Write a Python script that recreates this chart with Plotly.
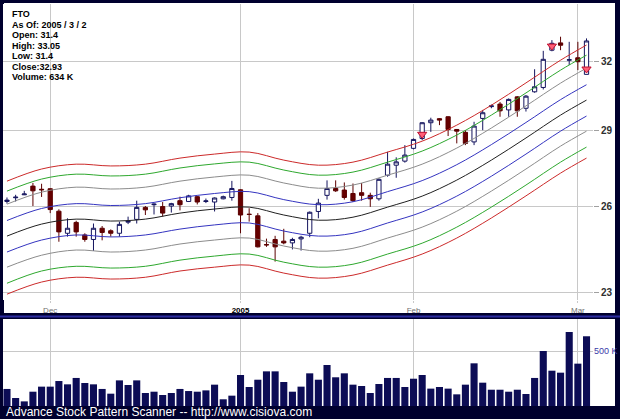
import math
import plotly.graph_objects as go

# ---------------- data ----------------
dates = [
    "2004-11-23", "2004-11-24", "2004-11-26", "2004-11-29", "2004-11-30",
    "2004-12-01", "2004-12-02", "2004-12-03", "2004-12-06", "2004-12-07", "2004-12-08", "2004-12-09",
    "2004-12-10", "2004-12-13", "2004-12-14", "2004-12-15", "2004-12-16", "2004-12-17", "2004-12-20",
    "2004-12-21", "2004-12-22", "2004-12-23", "2004-12-27", "2004-12-28", "2004-12-29", "2004-12-30",
    "2004-12-31",
    "2005-01-03", "2005-01-04", "2005-01-05", "2005-01-06", "2005-01-07", "2005-01-10", "2005-01-11",
    "2005-01-12", "2005-01-13", "2005-01-14", "2005-01-18", "2005-01-19", "2005-01-20", "2005-01-21",
    "2005-01-24", "2005-01-25", "2005-01-26", "2005-01-27", "2005-01-28", "2005-01-31",
    "2005-02-01", "2005-02-02", "2005-02-03", "2005-02-04", "2005-02-07", "2005-02-08", "2005-02-09",
    "2005-02-10", "2005-02-11", "2005-02-14", "2005-02-15", "2005-02-16", "2005-02-17", "2005-02-18",
    "2005-02-22", "2005-02-23", "2005-02-24", "2005-02-25", "2005-02-28",
    "2005-03-01", "2005-03-02",
]

opens = [26.20, 26.34, 26.45, 26.78, 26.66, 26.68, 25.84, 25.04, 25.43, 24.98,
         24.82, 25.22, 25.13, 25.04, 25.44, 25.54, 25.98, 26.08, 26.01, 26.03,
         26.23, 26.20, 26.38, 26.20, 26.18, 26.30, 26.35, 26.64, 25.73, 25.67,
         24.64, 24.82, 24.76, 24.70, 24.84, 25.04, 25.83, 26.43, 26.69, 26.63,
         26.50, 26.53, 26.43, 26.30, 27.20, 27.59, 27.75, 28.26, 28.66, 29.31,
         29.48, 29.56, 29.03, 28.91, 28.52, 29.49, 29.99, 30.10, 29.85, 30.41,
         29.92, 30.63, 30.82, 32.50, 32.84, 32.04, 32.15, 31.40]
highs = [26.35, 26.45, 26.60, 26.90, 26.87, 26.70, 25.91, 25.58, 25.49, 25.04,
         25.39, 25.30, 25.18, 25.46, 25.64, 26.23, 26.03, 26.13, 26.18, 26.15,
         26.38, 26.45, 26.41, 26.31, 26.35, 26.42, 26.98, 26.66, 25.95, 25.77,
         24.85, 24.95, 25.20, 24.88, 24.95, 25.83, 26.30, 27.00, 27.00, 26.92,
         26.88, 26.90, 26.53, 27.08, 28.12, 27.90, 28.39, 28.66, 29.33, 29.52,
         29.50, 29.58, 29.05, 29.00, 29.35, 29.85, 30.08, 30.19, 30.34, 30.44,
         30.49, 31.63, 32.47, 32.97, 33.13, 32.89, 32.89, 33.05]
lows = [26.12, 26.20, 26.44, 26.03, 26.37, 25.77, 24.74, 24.92, 24.92, 24.74,
        24.42, 24.79, 24.92, 24.92, 25.37, 25.39, 25.70, 25.72, 25.64, 25.79,
        25.87, 26.18, 26.09, 26.14, 25.83, 26.28, 26.23, 25.04, 25.46, 24.54,
        24.56, 24.05, 24.65, 24.47, 24.43, 24.90, 25.58, 26.27, 26.56, 26.27,
        26.18, 26.23, 26.00, 26.23, 27.14, 27.10, 27.69, 28.22, 28.59, 28.93,
        29.21, 28.76, 28.46, 28.39, 28.39, 29.00, 29.92, 29.56, 29.56, 29.56,
        29.78, 30.59, 30.73, 32.45, 32.50, 31.82, 31.59, 31.40]
closes = [26.25, 26.36, 26.48, 26.60, 26.64, 25.90, 25.09, 25.22, 25.09, 24.82,
          25.22, 25.07, 25.04, 25.36, 25.47, 25.98, 25.89, 26.10, 25.77, 26.12,
          26.08, 26.41, 26.18, 26.22, 26.33, 26.38, 26.69, 25.70, 25.72, 24.56,
          24.63, 24.56, 24.70, 24.82, 24.90, 25.80, 26.14, 26.69, 26.60, 26.35,
          26.23, 26.43, 26.30, 27.04, 27.63, 27.72, 27.99, 28.62, 29.31, 29.42,
          29.42, 29.03, 28.96, 28.46, 29.17, 29.73, 30.02, 29.81, 30.30, 29.81,
          30.44, 30.85, 32.08, 32.82, 32.73, 32.06, 31.97, 32.93]
volumes_k = [155, 73, 42, 130, 176, 176, 227, 197, 255, 209,
             197, 155, 112, 233, 191, 233, 118, 130, 100, 118,
             155, 136, 130, 142, 194, 61, 94, 282, 173, 239,
             315, 315, 218, 130, 176, 297, 239, 373, 261, 297,
             194, 182, 118, 200, 255, 255, 173, 248, 282, 158,
             173, 158, 106, 194, 388, 212, 148, 148, 130, 148,
             109, 255, 500, 321, 303, 673, 385, 634]

# envelope band lines, read at every 4th trading day (plus the last one)
band_days = [0, 4, 8, 12, 16, 20, 24, 28, 32, 36, 40, 44, 48, 52, 56, 60, 64, 67]
red_upper = [26.97, 27.44, 27.63, 27.56, 27.63, 27.87, 28.03, 28.11, 27.79, 27.59,
             27.71, 28.11, 28.55, 29.21, 30.05, 31.02, 32.04, 32.74]
green_upper = [26.59, 27.05, 27.24, 27.17, 27.24, 27.48, 27.64, 27.71, 27.40, 27.20,
               27.32, 27.71, 28.15, 28.80, 29.63, 30.58, 31.59, 32.27]
gray_upper = [26.10, 26.55, 26.74, 26.67, 26.74, 26.97, 27.13, 27.20, 26.90, 26.70,
              26.82, 27.20, 27.63, 28.27, 29.09, 30.02, 31.01, 31.68]
blue_upper = [25.50, 25.94, 26.12, 26.05, 26.12, 26.34, 26.50, 26.57, 26.27, 26.08,
              26.19, 26.57, 26.99, 27.61, 28.41, 29.32, 30.29, 30.94]
center_line = [24.94, 25.37, 25.55, 25.48, 25.55, 25.77, 25.92, 25.99, 25.70, 25.51,
               25.62, 25.99, 26.40, 27.01, 27.79, 28.68, 29.63, 30.27]
blue_lower = [24.38, 24.80, 24.98, 24.91, 24.98, 25.19, 25.34, 25.41, 25.12, 24.94,
              25.04, 25.41, 25.81, 26.40, 27.16, 28.03, 28.96, 29.59]
gray_lower = [23.86, 24.27, 24.45, 24.38, 24.45, 24.66, 24.80, 24.87, 24.59, 24.41,
              24.51, 24.87, 25.26, 25.84, 26.59, 27.44, 28.35, 28.96]
green_lower = [23.32, 23.73, 23.89, 23.83, 23.89, 24.10, 24.24, 24.31, 24.03, 23.86,
               23.96, 24.31, 24.69, 25.26, 25.99, 26.82, 27.71, 28.31]
red_lower = [22.96, 23.36, 23.52, 23.46, 23.52, 23.73, 23.86, 23.93, 23.66, 23.49,
             23.59, 23.93, 24.31, 24.87, 25.59, 26.41, 27.28, 27.87]

signal_days = [48, 63, 67]
signal_prices = [28.83, 32.69, 31.64]

tick_dates = ["2004-12-01", "2005-01-03", "2005-02-01", "2005-03-01"]
tick_labels = ["Dec", "<b><span style='color:#000000'>2005</span></b>", "Feb", "Mar"]
price_ticks = [23, 26, 29, 32]
volume_ticks_k = [500]
volume_tick_labels = ["500 K"]

info_lines = ["FTO", "As Of: 2005 / 3 / 2", "Open: 31.4", "High: 33.05",
              "Low: 31.4", "Close:32.93", "Volume: 634 K"]
footer_text = "Advance Stock Pattern Scanner -- http://www.cisiova.com"

# ---------------- layout helpers (pixel -> paper) ----------------
W, H = 620, 419
def fx(px):
    return px / W
def fy(py):
    return 1 - py / H

idx = list(range(len(dates)))
tickvals = [dates.index(d) for d in tick_dates]
volumes = [v * 1000 for v in volumes_k]

fig = go.Figure()

bands = [
    (red_upper, "#cc2a2a"), (green_upper, "#2ea82e"), (gray_upper, "#8c8c8c"),
    (blue_upper, "#3434c0"), (center_line, "#202020"), (blue_lower, "#3434c0"),
    (gray_lower, "#8c8c8c"), (green_lower, "#2ea82e"), (red_lower, "#cc2a2a"),
]
for vals, col in bands:
    fig.add_trace(go.Scatter(
        x=band_days, y=vals, mode="lines", line=dict(color=col, width=1, shape="spline", smoothing=1.0),
        hoverinfo="skip", showlegend=False, xaxis="x", yaxis="y"))

fig.add_trace(go.Candlestick(
    x=idx, open=opens, high=highs, low=lows, close=closes,
    increasing=dict(line=dict(color="#14145e", width=1), fillcolor="#ffffff"),
    decreasing=dict(line=dict(color="#5c0000", width=1), fillcolor="#660000"),
    whiskerwidth=0, showlegend=False, xaxis="x", yaxis="y"))

fig.add_trace(go.Scatter(
    x=signal_days, y=signal_prices, mode="markers",
    marker=dict(symbol="triangle-down", size=8, color="#ff6078", line=dict(color="#c01030", width=1)),
    hoverinfo="skip", showlegend=False, xaxis="x", yaxis="y"))

fig.add_trace(go.Bar(
    x=idx, y=volumes, marker=dict(color="#0c0c55", line=dict(width=0)),
    showlegend=False, xaxis="x2", yaxis="y2"))

xrange = [-0.46, 67.75]
yr_lo, yr_hi = 22.77, 34.71

annotations = []
for k, t in enumerate(info_lines):
    annotations.append(dict(
        xref="paper", yref="paper", x=fx(10), y=fy(14.5 + k * 10.4),
        xanchor="left", yanchor="middle", showarrow=False,
        text="<b>" + t + "</b>", font=dict(family="Arial, Liberation Sans, sans-serif", size=9, color="#000000")))
annotations.append(dict(
    xref="paper", yref="paper", x=fx(4), y=fy(412), xanchor="left", yanchor="middle",
    showarrow=False, text=footer_text,
    font=dict(family="Arial, Liberation Sans, sans-serif", size=12, color="#ffffff")))

shapes = [
    dict(type="rect", xref="paper", yref="paper", x0=fx(4), x1=fx(615), y0=fy(313), y1=fy(3),
         fillcolor="#ffffff", line=dict(width=0), layer="below"),
    dict(type="rect", xref="paper", yref="paper", x0=fx(4), x1=fx(615), y0=fy(406), y1=fy(319),
         fillcolor="#ffffff", line=dict(width=0), layer="below"),
    dict(type="line", xref="paper", yref="paper", x0=fx(0), x1=fx(620), y0=fy(316.5), y1=fy(316.5),
         line=dict(color="#2c2ca0", width=2), layer="below"),
]

fig.update_layout(
    width=W, height=H, autosize=False,
    margin=dict(l=0, r=0, t=0, b=0, pad=0),
    paper_bgcolor="#00002e", plot_bgcolor="#ffffff",
    font=dict(family="Arial, Liberation Sans, sans-serif"),
    showlegend=False, bargap=0.18,
    xaxis=dict(domain=[fx(3), fx(593)], range=xrange, tickmode="array", tickvals=tickvals,
               ticktext=tick_labels, showgrid=True, gridcolor="#c8c8c8", gridwidth=1,
               ticks="outside", ticklen=2, tickcolor="#c8c8c8", zeroline=False, showline=False,
               tickfont=dict(size=8, color="#707070"), rangeslider=dict(visible=False),
               anchor="y", fixedrange=True),
    yaxis=dict(domain=[fy(300), fy(4)], type="log", range=[math.log10(yr_lo), math.log10(yr_hi)],
               side="right", tickmode="array", tickvals=price_ticks,
               ticktext=["<b>%d</b>" % v for v in price_ticks],
               showgrid=True, gridcolor="#c8c8c8", ticks="outside", ticklen=5, tickcolor="#a0a0a0",
               zeroline=False, showline=False, tickfont=dict(size=10, color="#303030"),
               anchor="x", fixedrange=True),
    xaxis2=dict(domain=[fx(3), fx(593)], range=xrange, tickmode="array", tickvals=tickvals,
                showticklabels=False, showgrid=True, gridcolor="#c8c8c8", ticks="",
                zeroline=False, showline=False, anchor="y2", fixedrange=True),
    yaxis2=dict(domain=[fy(406), fy(319)], range=[0, 791000], side="right", tickmode="array",
                tickvals=[v * 1000 for v in volume_ticks_k], ticktext=volume_tick_labels,
                showgrid=True, gridcolor="#c8c8c8", ticks="", zeroline=False, showline=False,
                tickfont=dict(size=9, color="#3a3aa8"), anchor="x2", fixedrange=True),
    annotations=annotations, shapes=shapes,
)

fig.write_html("out.html", config={"displayModeBar": False},
               post_script="document.body.style.margin='0';document.body.style.overflow='hidden';")
